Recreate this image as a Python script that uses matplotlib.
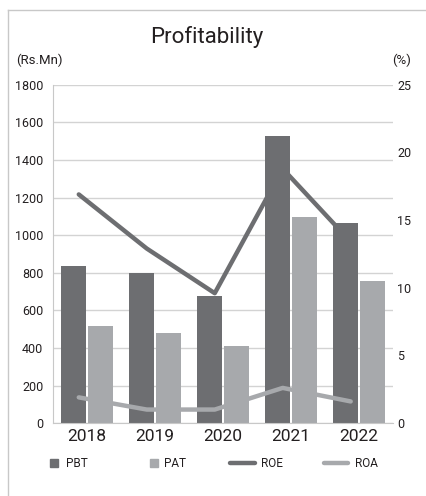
import numpy as np
import matplotlib.pyplot as plt
from matplotlib.lines import Line2D
from matplotlib.patches import Rectangle

plt.rcParams['font.family'] = ['Roboto', 'DejaVu Sans']

years = ['2018', '2019', '2020', '2021', '2022']
pbt = [835, 799, 676, 1528, 1065]   # Rs. Mn
pat = [516, 479, 410, 1097, 756]    # Rs. Mn
roe = [16.9, 12.9, 9.6, 18.8, 13.4]  # %
roa = [1.9, 1.0, 1.0, 2.6, 1.6]     # %

DARK = '#6d6e71'
LIGHT = '#a7a9ac'
GRID = '#d3d3d3'
TXT = '#231f20'

fig = plt.figure(figsize=(4.27, 4.96), dpi=100)
ax = fig.add_axes([0.124, 0.147, 0.796, 0.682])
ax2 = ax.twinx()

x = np.arange(len(years))
w = 0.365
ax.bar(x - w / 2 - 0.015, pbt, w, color=DARK, zorder=2)
ax.bar(x + w / 2 + 0.015, pat, w, color=LIGHT, zorder=2)

# lines sit a little left of the category centre
ax2.plot(x - 0.12, roe, color=DARK, lw=3.2, solid_capstyle='round')
ax2.plot(x - 0.12, roa, color=LIGHT, lw=3.2, solid_capstyle='round')

ax.set_xlim(-0.5, len(years) - 0.5)
ax.set_ylim(0, 1800)
ax.set_yticks(np.arange(0, 1801, 200))
ax2.set_ylim(0, 25)
ax2.set_yticks(np.arange(0, 26, 5))

ax.set_xticks(x)
ax.set_xticklabels(years, fontsize=12.5, color=TXT)
ax.tick_params(axis='x', length=0, pad=4)
ax.tick_params(axis='y', length=0, pad=7, labelsize=9, labelcolor=TXT)
ax2.tick_params(axis='y', length=0, pad=3, labelsize=9, labelcolor=TXT)

ax.yaxis.grid(True, color=GRID, lw=1)
ax.set_axisbelow(True)
for s in ['top', 'right']:
    ax.spines[s].set_visible(False)
for s in ['top', 'right', 'left', 'bottom']:
    ax2.spines[s].set_visible(False)
ax.spines['left'].set_color('#c8c8c8')
ax.spines['bottom'].set_color('#c8c8c8')

fig.text(0.485, 0.925, 'Profitability', ha='center', va='center', fontsize=16, color=TXT)
fig.text(0.038, 0.879, '(Rs.Mn)', ha='left', va='center', fontsize=9.5, color=TXT)
fig.text(0.962, 0.879, '(%)', ha='right', va='center', fontsize=9.5, color=TXT)

# frame lines (top and left only)
fig.add_artist(Line2D([0.019, 1.0], [0.980, 0.980], color='#c8c8c8', lw=1))
fig.add_artist(Line2D([0.019, 0.019], [0.0, 0.980], color='#c8c8c8', lw=1))

# legend
ly = 0.066
fig.add_artist(Rectangle((50 / 427, ly - 0.008), 8 / 427, 8 / 496, color=DARK))
fig.text(66 / 427, ly, 'PBT', va='center', fontsize=8.5, color=TXT)
fig.add_artist(Rectangle((150 / 427, ly - 0.008), 8 / 427, 8 / 496, color=LIGHT))
fig.text(164 / 427, ly, 'PAT', va='center', fontsize=8.5, color=TXT)
fig.add_artist(Line2D([230 / 427, 255 / 427], [ly, ly], color=DARK, lw=3.2, solid_capstyle='round'))
fig.text(261 / 427, ly, 'ROE', va='center', fontsize=8.5, color=TXT)
fig.add_artist(Line2D([324 / 427, 348 / 427], [ly, ly], color=LIGHT, lw=3.2, solid_capstyle='round'))
fig.text(355 / 427, ly, 'ROA', va='center', fontsize=8.5, color=TXT)

fig.savefig('out.png', dpi=100)
